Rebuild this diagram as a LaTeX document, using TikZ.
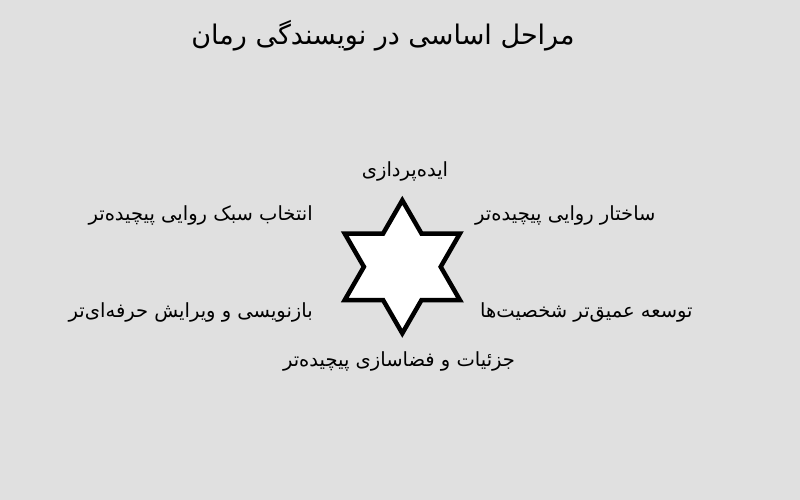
\documentclass[tikz,border=0pt]{standalone}
\usepackage{fontspec}
\usetikzlibrary{calc}
\newfontfamily\arabicfont[Script=Arabic]{DejaVu Sans}
\TeXXeTstate=1
\definecolor{bggray}{RGB}{224,224,224}
\tikzset{
  lbl/.style={inner sep=0pt, font=\arabicfont\fontsize{19.5}{22}\selectfont},
  ttl/.style={inner sep=0pt, font=\arabicfont\fontsize{27}{31}\selectfont},
  starshape/.style={draw=black, fill=white, line width=4.5pt, line join=miter}
}
\begin{document}
\begin{tikzpicture}[x=1pt,y=-1pt]
\fill[bggray] (0,0) rectangle (800,500);
\useasboundingbox (0,0) rectangle (800,500);
\node[ttl] (title) at (383,36) {\beginR مراحل اساسی در نویسندگی رمان\endR};
\coordinate (c) at (402.3,266.8);
\def\R{66.5}
\def\r{38.4}
\draw[starshape] ($(c)+(-90:\R)$) -- ($(c)+(-60:\r)$) -- ($(c)+(-30:\R)$) -- ($(c)+(0:\r)$)
  -- ($(c)+(30:\R)$) -- ($(c)+(60:\r)$) -- ($(c)+(90:\R)$) -- ($(c)+(120:\r)$)
  -- ($(c)+(150:\R)$) -- ($(c)+(180:\r)$) -- ($(c)+(210:\R)$) -- ($(c)+(240:\r)$) -- cycle;
\node[lbl] (l1) at (405,171) {\beginR ایده‌پردازی\endR};
\node[lbl, anchor=west] (l2) at (475,215) {\beginR ساختار روایی پیچیده‌تر\endR};
\node[lbl, anchor=west] (l3) at (480,312) {\beginR توسعه عمیق‌تر شخصیت‌ها\endR};
\node[lbl] (l4) at (399,361) {\beginR جزئیات و فضاسازی پیچیده‌تر\endR};
\node[lbl, anchor=east] (l5) at (313,312) {\beginR بازنویسی و ویرایش حرفه‌ای‌تر\endR};
\node[lbl, anchor=east] (l6) at (313,215) {\beginR انتخاب سبک روایی پیچیده‌تر\endR};
\end{tikzpicture}
\end{document}
